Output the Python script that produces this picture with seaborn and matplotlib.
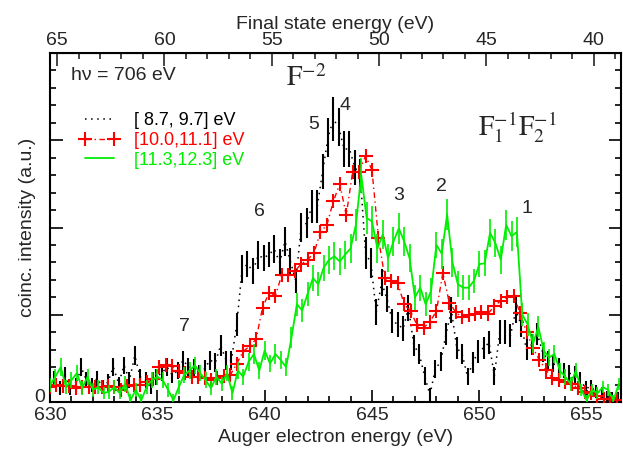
import numpy as np
import matplotlib
matplotlib.use('Agg')
import matplotlib.pyplot as plt
import matplotlib.transforms as mtransforms
from matplotlib.lines import Line2D
from matplotlib.ticker import MultipleLocator, FixedLocator
import seaborn as sns

# energies (eV) of the three coincidence windows
black_e = 630.2 + 0.25 * np.arange(106)
red_e = 630.0 + 0.3 * np.arange(89)
green_e = 630.0 + 0.25 * np.arange(107)

black_y = [26, 16, 31, 16, 19, 40, 25, 19, 27, 17, 23, 40, 21, 42, 25, 53, 29, 25, 17, 29,
           33, 40, 31, 36, 48, 40, 39, 33, 38, 48, 45, 65, 48, 48, 89, 152, 158, 150, 168, 165,
           169, 175, 160, 184, 161, 139, 200, 205, 224, 224, 264, 303, 324, 315, 290, 290, 269, 260, 171, 159,
           103, 137, 118, 93, 89, 84, 108, 65, 55, 30, 8, 38, 46, 78, 105, 62, 55, 29, 45, 58,
           62, 68, 30, 80, 80, 76, 105, 88, 60, 66, 78, 57, 48, 44, 40, 36, 33, 31, 25, 16,
           17, 12, 10, 7, 6, 5]
black_err = [9, 8, 9, 8, 8, 10, 9, 8, 9, 8, 9, 10, 8, 10, 9, 11, 9, 9, 8, 9,
             9, 10, 9, 10, 11, 10, 10, 9, 10, 11, 11, 12, 11, 11,
             13, 16, 15, 15, 16, 15, 14, 16, 15, 17, 16, 14, 17, 17, 19, 19, 20, 22, 25, 22, 21, 21, 20, 19,
             18, 17, 15, 16, 15, 14, 14, 14, 15, 12, 12, 10, 8, 10, 11, 13, 15,
             13, 12, 10, 12, 13, 13, 13, 10, 14, 14, 13, 15, 14, 12, 12, 13, 11,
             11, 10, 10, 9, 9, 10, 9, 8, 8, 7, 7, 6, 6, 6]

red_y = [17, 19, 18, 18, 16, 17, 17, 17, 17, 18, 17, 14, 18, 19, 20, 23, 26, 40, 42, 41,
         36, 33, 29, 29, 27, 25, 28, 30, 31, 44, 58, 64, 72, 108, 125, 122, 146, 146, 150, 158,
         163, 171, 195, 203, 230, 250, 214, 264, 264, 282, 266, 188, 142, 139, 136, 112, 104, 88, 85, 92,
         104, 148, 114, 103, 97, 100, 101, 103, 101, 110, 116, 120, 122, 102, 80, 62, 48, 37, 27, 25,
         23, 21, 16, 12, 10, 7, 4, 3, 2]

green_y = [19, 29, 40, 17, 25, 33, 16, 29, 14, 17, 10, 12, 17, 10, 21, 2, 14, 2, 17, 25,
           29, 25, 14, 2, 17, 31, 36, 42, 33, 25, 16, 29, 21, 33, 10, 36, 29, 46, 55, 36,
           59, 44, 55, 48, 40, 74, 112, 105, 124, 142, 135, 154, 163, 167, 161, 169, 176, 203, 260, 211,
           207, 176, 192, 165, 184, 199, 184, 165, 120, 131, 112, 127, 180, 170, 215, 160, 135, 131, 131, 139,
           158, 159, 194, 182, 163, 203, 190, 195, 100, 89, 67, 86, 59, 51, 55, 36, 29, 21, 36, 14,
           2, 14, 10, 17, 14, 2, 21]
green_err = [8, 9, 10, 8, 9, 9, 8, 9, 8, 8, 7, 8, 8, 7, 9, 7, 8, 7, 8, 9,
             9, 9, 8, 7, 8, 9, 10, 10, 9, 9, 8, 9, 8, 9, 8, 10, 9, 10, 11, 10, 11,
             10, 11, 10, 10, 12, 13, 13, 14, 15, 14, 15, 16, 16, 16, 16, 17, 18, 20, 18, 18,
             17, 17, 16, 17, 18, 17, 16,
             14, 15, 14, 15, 15, 17, 18, 17, 15, 14, 14, 14, 15, 15, 16, 16, 16, 17, 17, 17,
             13, 13, 11, 12, 10, 10, 10, 9, 9, 8, 9, 7, 6, 7, 7, 7, 7, 6, 7]

labels = ['[ 8.7, 9.7] eV', '[10.0,11.1] eV', '[11.3,12.3] eV']
peaks = ['1', '2', '3', '4', '5', '6', '7']
peak_x = [652.23, 648.22, 646.26, 643.75, 642.26, 639.74, 636.24]
peak_y = [222, 247, 237, 340, 318, 218, 86]
top_ticks = [65, 60, 55, 50, 45, 40]
E0 = 695.33  # final state energy = E0 - Auger energy

GREEN = '#00ee00'
RED = '#ff0000'

sns.set_style('ticks')
plt.rcParams['font.family'] = ['Liberation Sans', 'DejaVu Sans']
plt.rcParams['mathtext.fontset'] = 'stix'

fig = plt.figure(figsize=(6.23, 4.59), dpi=100)
ax = fig.add_axes([50 / 623, 57 / 459, 571 / 623, 349 / 459])

# black: dotted line + error bars
ax.vlines(black_e, np.array(black_y) - black_err, np.array(black_y) + black_err, color='k', lw=1.5)
sns.lineplot(x=black_e, y=black_y, ax=ax, color='k', lw=1.1, linestyle=(0, (1, 3)),
             estimator=None, legend=False)
# red: crosses joined by dash-dot
sns.lineplot(x=red_e, y=red_y, ax=ax, color=RED, lw=1, linestyle=(0, (4, 2.5, 1, 2.5)),
             estimator=None, legend=False)
sns.scatterplot(x=red_e, y=red_y, ax=ax, color=RED, marker='+', s=110, linewidth=1.5,
                legend=False, zorder=3)
# green: solid line + error bars
ax.vlines(green_e, np.array(green_y) - green_err, np.array(green_y) + green_err, color=GREEN, lw=1.2,
          zorder=4)
sns.lineplot(x=green_e, y=green_y, ax=ax, color=GREEN, lw=1.3, estimator=None, legend=False, zorder=4)

ax.set_xlim(630, 656.6)
ax.set_ylim(0, 400)
ax.xaxis.set_major_locator(MultipleLocator(5))
ax.xaxis.set_minor_locator(MultipleLocator(1))
ax.set_yticks([0, 100, 200, 300, 400], ['0', '', '', '', ''])
ax.yaxis.set_minor_locator(MultipleLocator(20))
ax.tick_params(which='both', direction='in', labelsize=14, color='k', width=1.2, right=True)
ax.tick_params(axis='x', which='both', top=False)
ax.tick_params(which='major', length=9)
ax.tick_params(which='minor', length=4.5)
for s in ax.spines.values():
    s.set_linewidth(1.5)
    s.set_color('k')

off = mtransforms.ScaledTranslation(0, 7 / 100, fig.dpi_scale_trans)
for lab in ax.get_yticklabels():
    lab.set_transform(lab.get_transform() + off)

ax.set_xlabel('Auger electron energy (eV)', fontsize=14, labelpad=4)
ax.set_ylabel('coinc. intensity (a.u.)', fontsize=14)
ax.yaxis.set_label_coords(-0.025, 0.5)

top = ax.secondary_xaxis('top', functions=(lambda e: E0 - e, lambda f: E0 - f))
top.xaxis.set_major_locator(FixedLocator(top_ticks))
top.xaxis.set_minor_locator(MultipleLocator(1))
top.tick_params(which='both', direction='in', labelsize=14, width=1.2, pad=3)
top.tick_params(which='major', length=9)
top.tick_params(which='minor', length=4.5)
top.set_xlabel('Final state energy (eV)', fontsize=14, labelpad=2)

ax.text(631.0, 374, 'h\u03bd = 706 eV', fontsize=14, va='center', ha='left')
ax.text(641.0, 362, r'$\mathrm{F}^{-2}$', fontsize=20, va='baseline', ha='left')
ax.text(649.94, 305, r'$\mathrm{F}_1^{-1}\mathrm{F}_2^{-1}$', fontsize=20, va='baseline', ha='left')
for t, px, py in zip(peaks, peak_x, peak_y):
    ax.text(px, py, t, fontsize=14, ha='center', va='center')

handles = [Line2D([], [], color='k', lw=1.1, linestyle=(0, (1, 3))),
           Line2D([], [], color=RED, lw=1, linestyle=(0, (4, 2.5, 1, 2.5)), marker='+',
                  markersize=10, markeredgewidth=1.5),
           Line2D([], [], color=GREEN, lw=1.3)]
ax.legend(handles=handles, labels=labels, loc='upper left', bbox_to_anchor=(0.0525, 0.83),
          frameon=False, borderaxespad=0, borderpad=0, handlelength=2.2, handletextpad=0.8,
          labelspacing=0.15, numpoints=2, fontsize=13, labelcolor=['k', RED, GREEN])

fig.savefig('out.png', dpi=100)
